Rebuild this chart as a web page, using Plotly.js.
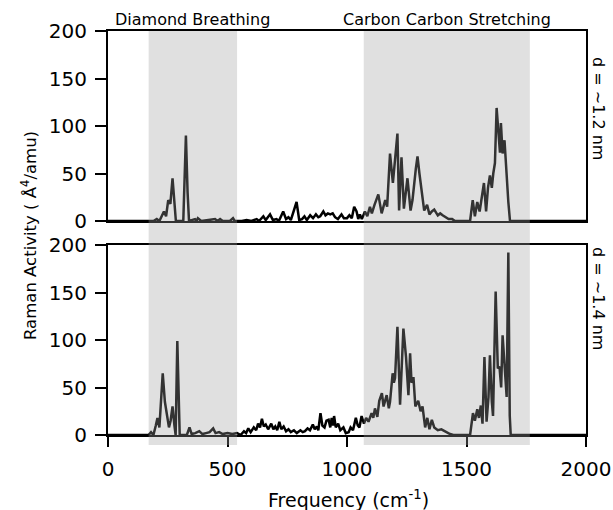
<!DOCTYPE html>
<html>
<head>
<meta charset="utf-8">
<script src="https://cdn.plot.ly/plotly-3.0.1.min.js"></script>
<style>html,body{margin:0;padding:0;background:#fff;}#chart{width:613px;height:510px;}</style>
</head>
<body>
<div id="chart"></div>
<script>
// Top panel: d = ~1.2 nm
const freqTop = [0,150,190,204,215,234,243,252,261,270,278,284,315,326,333,339,364,370,376,390,420,448,458,469,480,510,523,530,560,580,600,622,632,650,660,678,690,705,715,733,745,755,765,789,800,812,822,832,846,858,870,880,888,901,910,920,930,940,950,962,977,987,1000,1010,1020,1030,1040,1047,1054,1062,1075,1085,1096,1104,1115,1131,1145,1160,1168,1180,1192,1200,1211,1218,1228,1238,1253,1266,1274,1288,1295,1303,1323,1335,1345,1355,1365,1380,1390,1400,1415,1425,1440,1452,1515,1526,1535,1545,1555,1565,1573,1582,1590,1598,1606,1612,1619,1626,1634,1640,1644,1651,1659,1667,1675,1682,2000];
const ramanTop = [0,0,0,2,0,10,5,22,18,45,20,0,0,90,30,0,2,0,3,0,1,2,0,2,0,0,3,0,0,1,0,2,0,5,1,7,1,2,0,10,2,4,1,20,1,2,5,1,6,3,7,4,5,10,6,8,7,8,4,2,7,3,3,6,3,15,10,2,7,2,10,5,15,8,17,28,8,22,15,71,40,61,92,11,67,13,45,11,22,55,68,50,11,17,7,10,12,6,8,6,3,2,2,0,0,22,5,20,10,28,40,10,35,48,35,50,61,119,85,72,103,71,85,50,20,0,0];

// Bottom panel: d = ~1.4 nm
const freqBot = [0,170,180,190,200,207,215,229,238,245,255,262,270,278,283,290,296,300,330,341,350,365,382,395,410,425,440,450,465,480,500,520,540,555,569,578,587,597,610,620,628,636,644,652,660,670,683,692,700,708,717,725,735,745,755,765,778,790,805,815,824,835,845,857,865,874,880,889,897,906,914,923,930,936,942,946,953,963,972,985,995,1007,1015,1025,1037,1045,1052,1061,1071,1080,1090,1103,1110,1117,1127,1135,1146,1153,1166,1175,1180,1191,1196,1201,1211,1222,1236,1247,1257,1264,1270,1278,1286,1298,1308,1316,1327,1336,1345,1355,1365,1380,1395,1410,1420,1431,1445,1515,1527,1535,1545,1552,1560,1567,1575,1584,1592,1598,1606,1611,1622,1631,1638,1645,1651,1661,1668,1675,1681,1685,2000];
const ramanBot = [0,0,3,0,10,18,8,65,35,25,8,15,30,10,0,99,20,0,0,8,1,2,4,1,2,3,7,2,3,1,2,1,2,0,4,2,7,3,8,5,12,8,17,9,11,6,12,6,9,5,14,6,9,4,6,3,5,2,5,3,4,7,5,11,6,9,5,23,10,8,15,16,8,18,10,20,8,12,5,8,2,3,8,5,18,10,8,20,12,18,14,23,18,28,19,36,44,30,42,28,35,65,55,60,114,32,112,82,42,86,55,61,30,36,25,30,8,18,6,16,8,5,6,4,2,1,0,0,23,15,27,18,31,12,82,14,40,84,35,20,151,70,72,50,105,67,40,192,20,0,0];

const bandStarts = [170, 1070];
const bandEnds = [540, 1765];
const bandLabels = ["Diamond Breathing", "Carbon Carbon Stretching"];
const panelLabels = ["d = ~1.2 nm", "d = ~1.4 nm"];
const xTicks = [0, 500, 1000, 1500, 2000];
const yTicks = [0, 50, 100, 150, 200];

const FONT = "DejaVu Sans, sans-serif";

const traces = [
  {x: freqTop, y: ramanTop, xaxis: 'x', yaxis: 'y', mode: 'lines',
   line: {color: '#000', width: 2.5}, hoverinfo: 'skip'},
  {x: freqBot, y: ramanBot, xaxis: 'x2', yaxis: 'y2', mode: 'lines',
   line: {color: '#000', width: 2.5}, hoverinfo: 'skip'}
];

const axisCommon = {
  showline: true, linecolor: '#000', linewidth: 2, mirror: true,
  showgrid: false, zeroline: false
};

// pixel helpers (plot area: x 108..586, y 31..435)
const H = 404, W = 478;
const py = p => (435 - p) / H;
const px = p => (p - 108) / W;

const shapes = bandStarts.map((s, i) => ({
  type: 'rect', xref: 'x2', yref: 'paper',
  x0: s, x1: bandEnds[i], y0: py(445), y1: 1,
  fillcolor: 'rgba(159,159,159,0.32)', line: {width: 0}, layer: 'above'
}));

const annotations = [];
bandLabels.forEach((t, i) => {
  annotations.push({
    text: t, xref: 'x2', yref: 'paper',
    x: (bandStarts[i] + bandEnds[i]) / 2, xanchor: 'center',
    y: py(20), yanchor: 'middle',
    showarrow: false, font: {family: FONT, size: 16, color: '#000'}
  });
});
const labelCenters = [108, 298];
panelLabels.forEach((t, i) => {
  annotations.push({
    text: t, xref: 'paper', yref: 'paper',
    x: px(598), xanchor: 'center', y: py(labelCenters[i]), yanchor: 'middle',
    textangle: 90, showarrow: false, font: {family: FONT, size: 16, color: '#000'}
  });
});
annotations.push({
  text: 'Raman Activity ( Å<sup>4</sup>/amu)', xref: 'paper', yref: 'paper',
  x: px(29), xanchor: 'center', y: py(236), yanchor: 'middle',
  textangle: -90, showarrow: false,
  font: {family: FONT, size: 16.5, color: '#000'}
});
annotations.push({
  text: 'Frequency (cm<sup>-1</sup>)', xref: 'paper', yref: 'paper',
  x: px(348), xanchor: 'center', y: py(499), yanchor: 'middle',
  showarrow: false, font: {family: FONT, size: 19, color: '#000'}
});

const layout = {
  width: 613, height: 510,
  margin: {l: 108, r: 27, t: 31, b: 75},
  paper_bgcolor: '#fff', plot_bgcolor: '#fff',
  showlegend: false,
  font: {family: FONT, size: 20, color: '#000'},
  xaxis: Object.assign({}, axisCommon, {
    range: [0, 2000], anchor: 'y', matches: 'x2',
    showticklabels: false, ticks: ''
  }),
  yaxis: Object.assign({}, axisCommon, {
    domain: [py(221), 1], range: [0, 200], anchor: 'x',
    tickvals: yTicks, ticks: 'outside', ticklen: 11, tickwidth: 2, tickcolor: '#000',
    ticklabelstandoff: 4
  }),
  xaxis2: Object.assign({}, axisCommon, {
    range: [0, 2000], anchor: 'y2',
    tickvals: xTicks, ticks: 'outside', ticklen: 10, tickwidth: 2, tickcolor: '#000',
    ticklabelstandoff: 5
  }),
  yaxis2: Object.assign({}, axisCommon, {
    domain: [0, py(245)], range: [0, 200], anchor: 'x2',
    tickvals: yTicks, ticks: 'outside', ticklen: 11, tickwidth: 2, tickcolor: '#000',
    ticklabelstandoff: 4
  }),
  shapes: shapes,
  annotations: annotations
};

Plotly.newPlot('chart', traces, layout, {staticPlot: true, displayModeBar: false});
</script>
</body>
</html>
